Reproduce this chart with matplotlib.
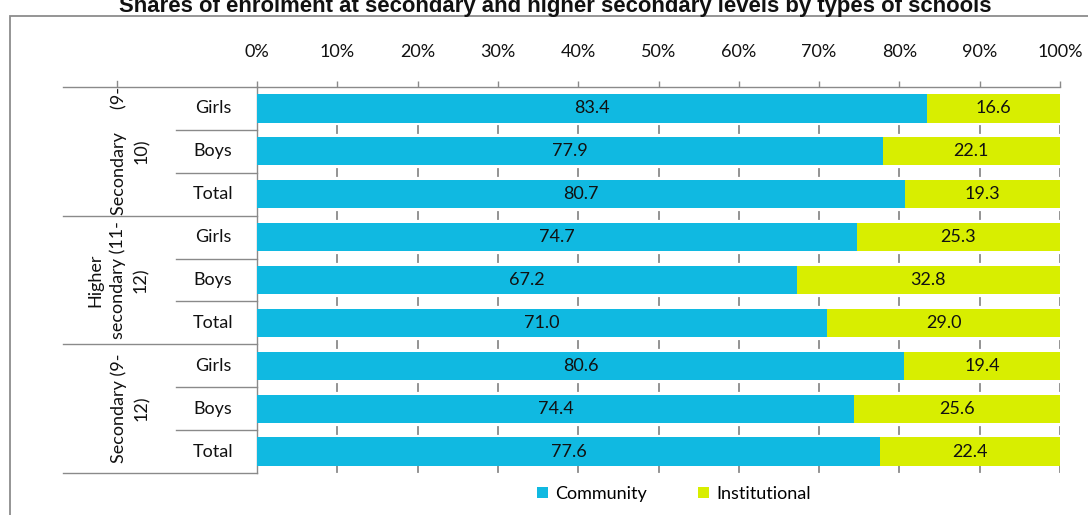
import matplotlib
matplotlib.use("Agg")
import matplotlib.pyplot as plt
import matplotlib.transforms as mtransforms
from matplotlib.patches import Rectangle, Patch
from matplotlib.lines import Line2D

# ---- data -------------------------------------------------------------
groups = ["Secondary     (9-\n10)", "Higher\nsecondary (11-\n12)", "Secondary (9-\n12)"]
group_centers = [130, 118, 130]   # horizontal pixel centre of each group label block
subgroups = ["Girls", "Boys", "Total"]
community = [83.4, 77.9, 80.7, 74.7, 67.2, 71.0, 80.6, 74.4, 77.6]
institutional = [16.6, 22.1, 19.3, 25.3, 32.8, 29.0, 19.4, 25.6, 22.4]
tick_values = [0, 10, 20, 30, 40, 50, 60, 70, 80, 90, 100]
tick_labels = [f"{v}%" for v in tick_values]
series_names = ["Community", "Institutional"]
title = "Shares of enrolment at secondary and higher secondary levels by types of schools"

# ---- style ------------------------------------------------------------
C_COMM = "#10B9E1"
C_INST = "#D8EE00"
GRID = "#8a8a8a"
FONT = "Lato"
FS = 13

W, H = 1088, 515
fig = plt.figure(figsize=(W / 100, H / 100), dpi=100)

# outer chart frame (runs off the right and bottom edges)
fig.patches.append(Rectangle((10 / W, -0.05), 1.2, 1 - 16 / H + 0.05,
                             transform=fig.transFigure, fill=False,
                             edgecolor="#8c8c8c", lw=1.3))

fig.text(555 / W, 1 - 12 / H, title, ha="center", va="baseline",
         family="Liberation Sans", weight="bold", fontsize=15.9, color="#111111")

ax_left, ax_right = 257, 1060
ax_top, ax_bot = 87, 473
ax = fig.add_axes([ax_left / W, 1 - ax_bot / H, (ax_right - ax_left) / W, (ax_bot - ax_top) / H])

n = len(community)
rows = list(range(n))
bar_h = 0.66
ax.barh(rows, community, height=bar_h, color=C_COMM, zorder=3)
ax.barh(rows, institutional, left=community, height=bar_h, color=C_INST, zorder=3)

for i in rows:
    ax.text(community[i] / 2, i, f"{community[i]:.1f}", ha="center", va="center",
            fontsize=FS, family=FONT, color="#111111", zorder=4)
    ax.text(community[i] + institutional[i] / 2, i, f"{institutional[i]:.1f}",
            ha="center", va="center", fontsize=FS, family=FONT, color="#111111", zorder=4)

ax.set_xlim(0, 100)
ax.set_ylim(n - 0.5, -0.5)

# axis: labels on top
ax.xaxis.tick_top()
ax.set_xticks(tick_values)
ax.set_xticklabels(tick_labels, family=FONT, fontsize=FS, color="#111111")
ax.tick_params(axis="x", direction="out", length=4.5, width=1.0, color=GRID, pad=15)
ax.set_yticks([])
for side in ["right", "bottom"]:
    ax.spines[side].set_visible(False)
for side in ["top", "left"]:
    ax.spines[side].set_color(GRID)
    ax.spines[side].set_linewidth(1.0)

# short gridline dashes that show in the gaps between bars
dash = 0.16
for v in tick_values[1:]:
    for i in range(n - 1):
        ax.plot([v, v], [i + 0.5 - dash / 2, i + 0.5 + dash / 2], color=GRID, lw=1.3, zorder=1)
    ax.plot([v, v], [n - 0.5 - dash - 0.02, n - 0.5 - 0.02], color=GRID, lw=1.3, zorder=1)

# category table on the left
bt = mtransforms.blended_transform_factory(ax.transAxes, ax.transData)
def px(x):
    return (x - ax_left) / (ax_right - ax_left)

for yb in [-0.5, 2.5, 5.5, 8.5]:
    ax.add_line(Line2D([px(63), 0], [yb, yb], transform=bt, color=GRID, lw=1.0, clip_on=False))
for yb in [0.5, 1.5, 3.5, 4.5, 6.5, 7.5]:
    ax.add_line(Line2D([px(176), 0], [yb, yb], transform=bt, color=GRID, lw=1.0, clip_on=False))
ax.add_line(Line2D([px(117), px(117)], [-0.5, -0.5 - 0.14], transform=bt, color=GRID, lw=1.0, clip_on=False))

for i in rows:
    ax.text(px(213), i, subgroups[i % 3], transform=bt, ha="center", va="center",
            fontsize=FS, family=FONT, color="#111111")

for g, (lab, cx) in enumerate(zip(groups, group_centers)):
    ax.text(px(cx), 3 * g + 1, lab, transform=bt, rotation=90, ha="center", va="center",
            multialignment="center", linespacing=1.5, fontsize=FS, family=FONT, color="#111111")

# legend
handles = [Patch(facecolor=C_COMM, edgecolor="none"), Patch(facecolor=C_INST, edgecolor="none")]
fig.legend(handles, series_names, loc="center", bbox_to_anchor=(674 / W, 1 - 494 / H),
           ncol=2, frameon=False, handlelength=0.6, handleheight=0.6, handletextpad=0.4,
           columnspacing=2.8, borderpad=0, prop={"family": FONT, "size": FS})

fig.savefig("out.png", dpi=100)
